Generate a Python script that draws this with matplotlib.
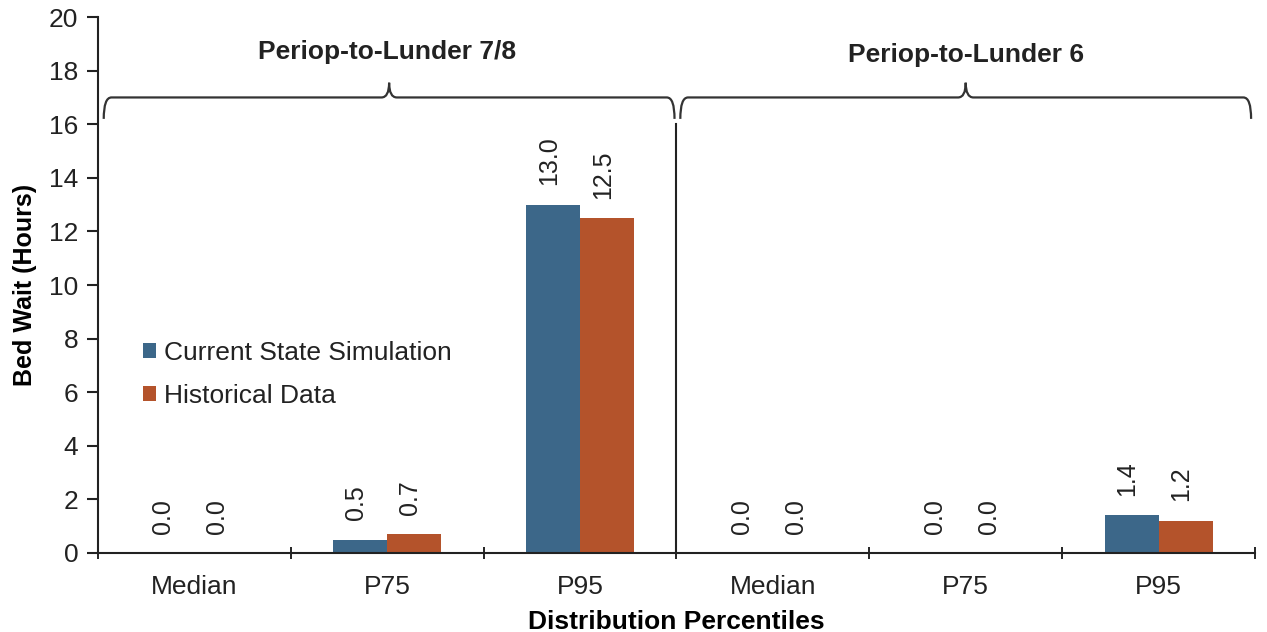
import numpy as np
import matplotlib
matplotlib.use("Agg")
from matplotlib import pyplot as plt
from matplotlib.path import Path
from matplotlib.patches import PathPatch

plt.rcParams['font.family'] = ['Liberation Sans', 'DejaVu Sans']

categories = ['Median', 'P75', 'P95', 'Median', 'P75', 'P95']
simulation = [0.0, 0.5, 13.0, 0.0, 0.0, 1.4]
historical = [0.0, 0.7, 12.5, 0.0, 0.0, 1.2]
groups = ['Periop-to-Lunder 7/8', 'Periop-to-Lunder 6']
series_names = ['Current State Simulation', 'Historical Data']

blue = '#3C6789'
orange = '#B4532B'
txt = '#222222'

fig = plt.figure(figsize=(12.67, 6.32), dpi=100)
ax = fig.add_axes([0.0773, 0.125, 0.9132, 0.848])

x = np.arange(len(categories))
w = 0.28
b1 = ax.bar(x - w/2, simulation, w, color=blue, label=series_names[0])
b2 = ax.bar(x + w/2, historical, w, color=orange, label=series_names[1])

# value labels, rotated like the original
for bars, vals in [(b1, simulation), (b2, historical)]:
    for r, v in zip(bars, vals):
        ax.annotate(f'{v:.1f}', (r.get_x() + r.get_width()/2, v),
                    xytext=(-3, 14), textcoords='offset points',
                    rotation=90, ha='center', va='bottom', fontsize=18, color=txt)

ax.set_xlim(-0.5, 5.5)
ax.set_ylim(0, 20)
ax.set_yticks(range(0, 21, 2))
ax.set_xticks(x)
ax.set_xticklabels(categories)
ax.set_xticks(np.arange(-0.5, 6, 1), minor=True)
ax.tick_params(axis='x', which='major', length=0, labelsize=19, pad=16, colors=txt)
ax.tick_params(axis='x', which='minor', length=8, width=1.2, direction='inout')
ax.tick_params(axis='y', length=8, width=1.5, labelsize=19, colors=txt, pad=6)
for s in ['top', 'right']:
    ax.spines[s].set_visible(False)
for s in ['left', 'bottom']:
    ax.spines[s].set_linewidth(1.5)
    ax.spines[s].set_color('#222222')

ax.set_ylabel('Bed Wait (Hours)', fontsize=18, fontweight='bold', labelpad=9)
ax.set_xlabel('Distribution Percentiles', fontsize=19, fontweight='bold', labelpad=8)

# divider between the two groups
ax.plot([2.5, 2.5], [0, 16.0], color='#222222', lw=1.5, clip_on=False)

def brace(x0, x1, y, h_end, h_tip, dx):
    xc = (x0 + x1) / 2
    verts = [(x0, y - h_end), (x0, y), (x0 + dx, y),
             (xc - dx, y), (xc, y), (xc, y + h_tip),
             (xc, y), (xc + dx, y),
             (x1 - dx, y), (x1, y), (x1, y - h_end)]
    codes = [Path.MOVETO, Path.CURVE3, Path.CURVE3,
             Path.LINETO, Path.CURVE3, Path.CURVE3,
             Path.CURVE3, Path.CURVE3,
             Path.LINETO, Path.CURVE3, Path.CURVE3]
    ax.add_patch(PathPatch(Path(verts, codes), fill=False, lw=1.6,
                           edgecolor='#333333', clip_on=False))

brace(-0.47, 2.49, 17.0, 0.8, 0.55, 0.04)
brace(2.52, 5.48, 17.0, 0.8, 0.55, 0.04)
ax.text(1.0, 18.7, groups[0], ha='center', va='center', fontsize=19, fontweight='bold', color=txt)
ax.text(4.0, 18.6, groups[1], ha='center', va='center', fontsize=19, fontweight='bold', color=txt)

ax.legend(loc='upper left', bbox_to_anchor=(0.018, 0.44), frameon=False,
          fontsize=19, handlelength=0.5, handleheight=0.5, handletextpad=0.3,
          labelspacing=0.72, labelcolor=txt)

plt.savefig('out.png', dpi=100)
